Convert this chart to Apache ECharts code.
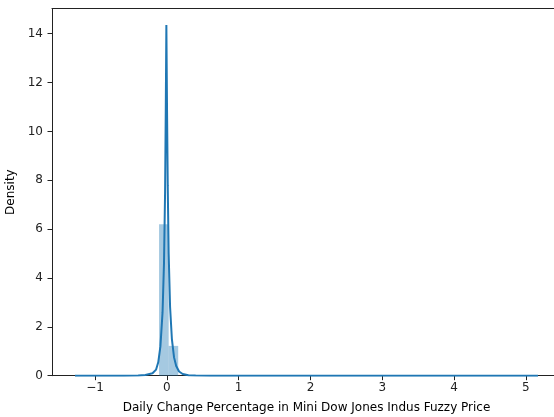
<!DOCTYPE html>
<html>
<head>
<meta charset="utf-8">
<script src="https://cdn.jsdelivr.net/npm/echarts@6/dist/echarts.min.js"></script>
<style>html,body{margin:0;padding:0;background:#fff}#c{width:554px;height:417px}</style>
</head>
<body>
<div id="c"></div>
<script>
const xTicks = [-1, 0, 1, 2, 3, 4, 5];
const yTicks = [0, 2, 4, 6, 8, 10, 12, 14];
const binEdges = [-0.109, 0.025, 0.158];
const binDensity = [6.2, 1.22];
const kdeX = [-1.28, -0.8, -0.6, -0.4, -0.3, -0.2, -0.15, -0.12, -0.09, -0.06, -0.04, -0.025, -0.015, -0.007, 0.002, 0.012, 0.025, 0.045, 0.07, 0.1, 0.13, 0.17, 0.22, 0.3, 0.4, 0.6, 1.0, 2.0, 3.0, 4.0, 5.17];
const kdeY = [0, 0, 0, 0.005, 0.025, 0.1, 0.25, 0.55, 1.2, 2.6, 4.6, 7.5, 11, 14.35, 11, 7.8, 5, 2.8, 1.5, 0.75, 0.4, 0.17, 0.07, 0.02, 0.005, 0, 0, 0, 0, 0, 0];

const barData = binDensity.map((d, i) => [binEdges[i], binEdges[i + 1], d]);
const kdeData = kdeX.map((x, i) => [x, kdeY[i]]);

const font = 'DejaVu Sans';
const chart = echarts.init(document.getElementById('c'), null, {renderer: 'canvas'});
chart.setOption({
  animation: false,
  grid: {left: 52, right: -7, top: 8.5, bottom: 41.3, outerBoundsMode: 'none', containLabel: false},
  xAxis: [{
    type: 'value', min: -1.6, max: 5.49,
    name: 'Daily Change Percentage in Mini Dow Jones Indus Fuzzy Price',
    nameLocation: 'middle', nameGap: 26,
    nameTextStyle: {fontFamily: font, fontSize: 12, color: '#000'},
    axisLine: {show: true, onZero: false, lineStyle: {color: '#222', width: 1}},
    axisTick: {show: true, customValues: xTicks, length: 4.5, lineStyle: {color: '#222'}},
    axisLabel: {customValues: xTicks, fontFamily: font, fontSize: 12, color: '#222', margin: 6,
      formatter: v => (v < 0 ? '\u2212' + Math.abs(v) : String(v))},
    splitLine: {show: false}
  }, {
    type: 'value', position: 'top', min: -1.6, max: 5.49,
    axisLine: {show: true, onZero: false, lineStyle: {color: '#222', width: 1}},
    axisTick: {show: false}, axisLabel: {show: false}, splitLine: {show: false}
  }],
  yAxis: {
    type: 'value', min: 0, max: 15.03,
    name: 'Density', nameLocation: 'middle', nameGap: 26,
    nameTextStyle: {fontFamily: font, fontSize: 12, color: '#000'},
    axisLine: {show: true, onZero: false, lineStyle: {color: '#222', width: 1}},
    axisTick: {show: true, customValues: yTicks, length: 4.5, lineStyle: {color: '#222'}},
    axisLabel: {customValues: yTicks, fontFamily: font, fontSize: 12, color: '#222', margin: 9},
    splitLine: {show: false}
  },
  series: [{
    type: 'custom',
    data: barData,
    renderItem: function (params, api) {
      const p0 = api.coord([api.value(0), api.value(2)]);
      const p1 = api.coord([api.value(1), 0]);
      return {
        type: 'rect',
        shape: {x: p0[0], y: p0[1], width: p1[0] - p0[0], height: p1[1] - p0[1]},
        style: {fill: 'rgba(31,119,180,0.4)'}
      };
    },
    encode: {x: [0, 1], y: 2},
    z: 1
  }, {
    type: 'line',
    data: kdeData,
    showSymbol: false,
    smooth: false,
    lineStyle: {color: '#1f77b4', width: 2},
    z: 2
  }]
});
</script>
</body>
</html>
